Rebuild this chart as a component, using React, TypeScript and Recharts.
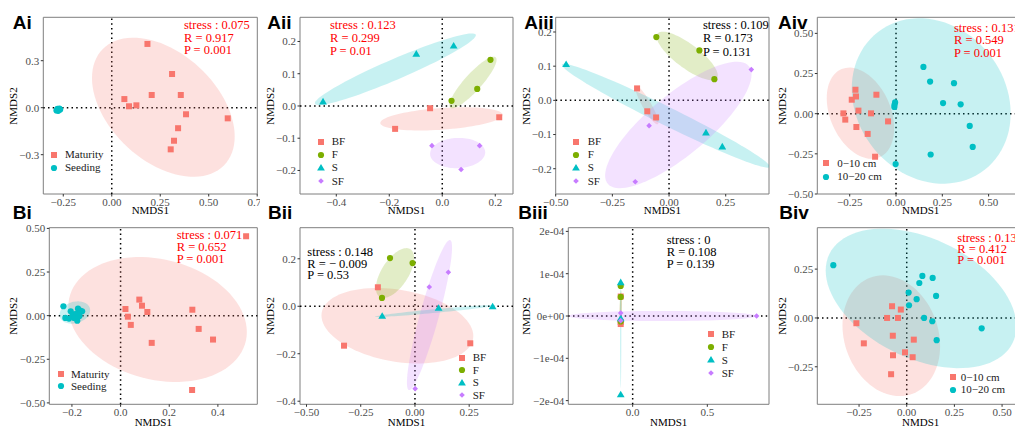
import React from 'react';
import { ScatterChart, Scatter, XAxis, YAxis, ReferenceLine, ReferenceArea } from 'recharts';

type Pt = [number, number];
type Ell = { cx: number; cy: number; sx: number; sy: number; r: number };
type Kind = 'square' | 'circle' | 'triangle' | 'diamond';

const RED = '#F8766D';
const GREEN = '#7CAE00';
const CYAN = '#00BFC4';
const PURPLE = '#C77CFF';

// ---- Ai : growth stage, 0-10 cm ----
const aiMaturity: Pt[] = [[0.184, 0.407], [0.311, 0.215], [0.065, 0.055], [0.206, 0.081], [0.356, 0.081], [0.089, 0.009], [0.127, 0.015], [0.383, -0.042], [0.598, -0.068], [0.342, -0.131], [0.321, -0.211], [0.304, -0.266]];
const aiSeeding: Pt[] = [[-0.285, -0.018], [-0.28, -0.008], [-0.276, -0.02], [-0.27, -0.006], [-0.266, -0.012], [-0.279, -0.014]];
const aiEllMaturity: Ell = { cx: 0.266, cy: 0.003, sx: 0.368, sy: 0.444, r: -0.42 };
const aiEllSeeding: Ell = { cx: -0.276, cy: -0.013, sx: 0.016, sy: 0.014, r: 0.3 };

// ---- Aii ----
const aiiBF: Pt[] = [[-0.046, -0.007], [-0.178, -0.071], [0.215, -0.035]];
const aiiF: Pt[] = [[0.035, 0.016], [0.132, 0.053], [0.182, 0.143]];
const aiiS: Pt[] = [[-0.45, 0.013], [-0.098, 0.161], [0.043, 0.186]];
const aiiSF: Pt[] = [[-0.039, -0.123], [0.141, -0.123], [0.071, -0.197]];
const aiiEll: Ell[] = [
  { cx: -0.003, cy: -0.04, sx: 0.231, sy: 0.036, r: 0.35 },
  { cx: 0.116, cy: 0.073, sx: 0.089, sy: 0.08, r: 0.88 },
  { cx: -0.177, cy: 0.114, sx: 0.304, sy: 0.111, r: 0.95 },
  { cx: 0.058, cy: -0.146, sx: 0.104, sy: 0.047, r: 0.05 },
];

// ---- Aiii ----
const aiiiBF: Pt[] = [[-0.141, 0.035], [-0.096, -0.032], [-0.057, -0.05]];
const aiiiF: Pt[] = [[-0.056, 0.185], [0.134, 0.146], [0.2, 0.062]];
const aiiiS: Pt[] = [[-0.454, 0.105], [0.163, -0.095], [0.235, -0.136]];
const aiiiSF: Pt[] = [[0.363, 0.09], [-0.088, -0.074], [-0.149, -0.238]];
const aiiiEll: Ell[] = [
  { cx: -0.098, cy: -0.014, sx: 0.051, sy: 0.056, r: -0.9 },
  { cx: 0.08, cy: 0.13, sx: 0.135, sy: 0.071, r: -0.8 },
  { cx: -0.014, cy: -0.045, sx: 0.459, sy: 0.152, r: -0.98 },
  { cx: 0.041, cy: -0.072, sx: 0.323, sy: 0.185, r: 0.8 },
];

// ---- Aiv ----
const aivTop: Pt[] = [[-0.219, 0.149], [-0.216, 0.107], [-0.239, 0.087], [-0.106, 0.118], [-0.203, 0.019], [-0.284, 0.002], [-0.274, -0.037], [-0.135, 0.002], [-0.043, -0.048], [-0.214, -0.083], [-0.153, -0.126], [-0.113, -0.268]];
const aivSub: Pt[] = [[0.148, 0.291], [0.184, 0.2], [0.313, 0.19], [0.254, 0.066], [0.349, 0.058], [-0.005, 0.07], [-0.008, 0.055], [-0.009, 0.042], [0.398, -0.076], [0.414, -0.207], [0.187, -0.254], [-0.002, -0.314]];
const aivEllTop: Ell = { cx: -0.192, cy: 0.003, sx: 0.182, sy: 0.284, r: -0.33 };
const aivEllSub: Ell = { cx: 0.19, cy: 0.079, sx: 0.429, sy: 0.515, r: -0.15 };

// ---- Bi ----
const biMaturity: Pt[] = [[0.516, 0.455], [0.077, 0.092], [0.088, 0.057], [0.11, 0.021], [0.02, 0.038], [0.03, -0.006], [0.042, -0.053], [0.128, -0.156], [0.295, 0.034], [0.321, -0.076], [0.38, -0.137], [0.294, -0.426]];
const biSeeding: Pt[] = [[-0.235, 0.054], [-0.227, -0.013], [-0.212, -0.017], [-0.205, 0.025], [-0.196, 0.006], [-0.183, 0.011], [-0.178, -0.029], [-0.175, 0.04], [-0.166, 0.029], [-0.158, 0.025], [-0.191, -0.013], [-0.169, -0.002]];
const biEllMaturity: Ell = { cx: 0.152, cy: -0.022, sx: 0.367, sy: 0.358, r: -0.2 };
const biEllSeeding: Ell = { cx: -0.188, cy: 0.018, sx: 0.063, sy: 0.064, r: 0.2 };

// ---- Bii ----
const biiBF: Pt[] = [[-0.171, 0.08], [-0.327, -0.166], [0.255, -0.156]];
const biiF: Pt[] = [[-0.115, 0.203], [-0.011, 0.182], [-0.152, 0.035]];
const biiS: Pt[] = [[-0.151, -0.042], [0.109, -0.008], [0.358, -0.002]];
const biiSF: Pt[] = [[0.066, 0.081], [0.154, 0.143], [0.001, -0.347]];
const biiEll: Ell[] = [
  { cx: -0.081, cy: -0.082, sx: 0.35, sy: 0.159, r: -0.27 },
  { cx: -0.092, cy: 0.14, sx: 0.088, sy: 0.105, r: 0.6 },
  { cx: 0.092, cy: -0.02, sx: 0.277, sy: 0.025, r: 0.95 },
  { cx: 0.067, cy: -0.037, sx: 0.104, sy: 0.316, r: 0.9 },
];

// ---- Biii ----
const biiiBF: Pt[] = [[-0.08, 4.6e-5], [-0.08, -1.4e-5], [-0.08, -1.9e-5]];
const biiiF: Pt[] = [[-0.08, 7.1e-5], [-0.08, 4.5e-5], [-0.08, -1.3e-5]];
const biiiS: Pt[] = [[-0.08, 7.9e-5], [-0.08, -0.6e-5], [-0.08, -1.86e-4]];
const biiiSF: Pt[] = [[-0.08, 0.7e-5], [-0.08, -1.1e-5], [0.83, 0]];
const biiiEll: Ell[] = [
  { cx: -0.08, cy: 1.5e-5, sx: 0.008, sy: 3.6e-5, r: 0.5 },
  { cx: -0.08, cy: 2e-5, sx: 0.008, sy: 4e-5, r: 0.3 },
  { cx: -0.08, cy: -4e-5, sx: 0.004, sy: 1.3e-4, r: 0 },
  { cx: 0.2, cy: 0, sx: 0.63, sy: 1.2e-5, r: 0 },
];

// ---- Biv ----
const bivTop: Pt[] = [[-0.077, 0.06], [-0.031, 0.043], [-0.103, 0], [-0.046, 0], [-0.264, -0.027], [-0.225, -0.13], [-0.073, -0.091], [0.037, -0.111], [-0.009, -0.176], [-0.072, -0.191], [0.031, -0.201], [-0.082, -0.288]];
const bivSub: Pt[] = [[-0.385, 0.27], [0.082, 0.215], [0.136, 0.205], [0.066, 0.179], [0.01, 0.13], [0.154, 0.113], [0.052, 0.096], [0.012, 0.065], [0.091, 0], [0.134, -0.017], [0.157, -0.114], [0.393, -0.053]];
const bivEllTop: Ell = { cx: -0.081, cy: -0.091, sx: 0.256, sy: 0.309, r: -0.17 };
const bivEllSub: Ell = { cx: 0.075, cy: 0.1, sx: 0.5, sy: 0.357, r: -0.4 };

const statsAi = ['stress : 0.075', 'R = 0.917', 'P = 0.001'];
const statsAii = ['stress : 0.123', 'R = 0.299', 'P = 0.01'];
const statsAiii = ['stress : 0.109', 'R = 0.173', 'P = 0.131'];
const statsAiv = ['stress : 0.131', 'R = 0.549', 'P = 0.001'];
const statsBi = ['stress : 0.071', 'R = 0.652', 'P = 0.001'];
const statsBii = ['stress : 0.148', 'R = \u2212 0.009', 'P = 0.53'];
const statsBiii = ['stress : 0', 'R = 0.108', 'P = 0.139'];
const statsBiv = ['stress : 0.131', 'R = 0.412', 'P = 0.001'];

const SERIF = '"Liberation Serif", "Times New Roman", serif';
const SANS = '"Liberation Sans", Arial, sans-serif';

type Group = { name: string; color: string; kind: Kind; pts: Pt[]; ell: Ell };

const stage = (m: Pt[], s: Pt[], em: Ell, es: Ell): Group[] => [
  { name: 'Maturity', color: RED, kind: 'square', pts: m, ell: em },
  { name: 'Seeding', color: CYAN, kind: 'circle', pts: s, ell: es },
];
const depth = (t: Pt[], s: Pt[], et: Ell, es: Ell): Group[] => [
  { name: '0\u221210 cm', color: RED, kind: 'square', pts: t, ell: et },
  { name: '10\u221220 cm', color: CYAN, kind: 'circle', pts: s, ell: es },
];
const mgmt = (bf: Pt[], f: Pt[], s: Pt[], sf: Pt[], e: Ell[]): Group[] => [
  { name: 'BF', color: RED, kind: 'square', pts: bf, ell: e[0] },
  { name: 'F', color: GREEN, kind: 'circle', pts: f, ell: e[1] },
  { name: 'S', color: CYAN, kind: 'triangle', pts: s, ell: e[2] },
  { name: 'SF', color: PURPLE, kind: 'diamond', pts: sf, ell: e[3] },
];

const minus = (v: number, s: string) => (v < 0 ? '\u2212' : '') + s;
const f1 = (v: number) => minus(v, Math.abs(v).toFixed(1));
const f2 = (v: number) => minus(v, Math.abs(v).toFixed(2));
const sci = (v: number) => (v === 0 ? '0e+00' : minus(v, `${Math.round(Math.abs(v) * 1e4)}e-04`));

type PanelCfg = {
  tag: string; tagAt: [number, number];
  left: number; top: number; clipW: number; height: number;
  plot: [number, number, number, number];
  xDomain: [number, number]; yDomain: [number, number];
  xTicks: number[]; yTicks: number[];
  xFmt: (v: number) => string; yFmt: (v: number) => string;
  groups: Group[];
  stats: string[]; statsColor: string; statsAt: [number, number]; statsGap: number;
  legendAt: [number, number]; legendGap: number; legendTextX: number;
  ylabX: number; xlabY: number;
};

const panels: PanelCfg[] = [
  {
    tag: 'Ai', tagAt: [12.7, 29.3], left: 0, top: 0, clipW: 261, height: 216,
    plot: [43.3, 17.3, 257.3, 194], xDomain: [-0.353, 0.7505], yDomain: [-0.551, 0.577],
    xTicks: [-0.25, 0, 0.25, 0.5, 0.75], yTicks: [-0.3, 0, 0.3], xFmt: f2, yFmt: f1,
    groups: stage(aiMaturity, aiSeeding, aiEllMaturity, aiEllSeeding),
    stats: statsAi, statsColor: '#FF0000', statsAt: [184, 25.3], statsGap: 12.7,
    legendAt: [54.3, 154.7], legendGap: 13, legendTextX: 65, ylabX: 13, xlabY: 210.3,
  },
  {
    tag: 'Aii', tagAt: [267.3, 29.3], left: 261, top: 0, clipW: 253, height: 216,
    plot: [300, 17.3, 513, 194], xDomain: [-0.537, 0.267], yDomain: [-0.273, 0.275],
    xTicks: [-0.4, -0.2, 0, 0.2], yTicks: [-0.2, -0.1, 0, 0.1, 0.2], xFmt: f1, yFmt: f1,
    groups: mgmt(aiiBF, aiiF, aiiS, aiiSF, aiiEll),
    stats: statsAii, statsColor: '#FF0000', statsAt: [330, 25], statsGap: 13.3,
    legendAt: [320.7, 141.7], legendGap: 13.1, legendTextX: 331.7, ylabX: 269.5, xlabY: 210.3,
  },
  {
    tag: 'Aiii', tagAt: [524.3, 29.3], left: 514, top: 0, clipW: 256, height: 216,
    plot: [555.7, 17.3, 769, 194], xDomain: [-0.5, 0.441], yDomain: [-0.274, 0.243],
    xTicks: [-0.5, -0.25, 0, 0.25], yTicks: [-0.2, -0.1, 0, 0.1, 0.2], xFmt: f2, yFmt: f1,
    groups: mgmt(aiiiBF, aiiiF, aiiiS, aiiiSF, aiiiEll),
    stats: statsAiii, statsColor: '#000000', statsAt: [703, 25], statsGap: 13.7,
    legendAt: [576, 141.7], legendGap: 13.1, legendTextX: 587.7, ylabX: 525.8, xlabY: 210.3,
  },
  {
    tag: 'Aiv', tagAt: [778, 29.3], left: 770, top: 0, clipW: 245, height: 216,
    plot: [817.3, 17.3, 1024, 194], xDomain: [-0.425, 0.691], yDomain: [-0.5, 0.6],
    xTicks: [-0.25, 0, 0.25, 0.5], yTicks: [-0.5, -0.25, 0, 0.25, 0.5], xFmt: f2, yFmt: f2,
    groups: depth(aivTop, aivSub, aivEllTop, aivEllSub),
    stats: statsAiv, statsColor: '#FF0000', statsAt: [954, 28.3], statsGap: 12.5,
    legendAt: [826, 163.3], legendGap: 13.4, legendTextX: 837.3, ylabX: 782, xlabY: 210.3,
  },
  {
    tag: 'Bi', tagAt: [12.7, 219.5], left: 0, top: 216, clipW: 261, height: 212,
    plot: [49.3, 227.7, 257.3, 404.3], xDomain: [-0.293, 0.562], yDomain: [-0.508, 0.504],
    xTicks: [-0.2, 0, 0.2, 0.4], yTicks: [-0.5, -0.25, 0, 0.25, 0.5], xFmt: f1, yFmt: f2,
    groups: stage(biMaturity, biSeeding, biEllMaturity, biEllSeeding),
    stats: statsBi, statsColor: '#FF0000', statsAt: [176.7, 235.3], statsGap: 12,
    legendAt: [61, 374.3], legendGap: 12, legendTextX: 71, ylabX: 12.8, xlabY: 422.5,
  },
  {
    tag: 'Bii', tagAt: [268, 219.5], left: 261, top: 216, clipW: 253, height: 212,
    plot: [300, 227.7, 513, 404.3], xDomain: [-0.53, 0.452], yDomain: [-0.413, 0.331],
    xTicks: [-0.5, -0.25, 0, 0.25], yTicks: [-0.4, -0.2, 0, 0.2], xFmt: f2, yFmt: f1,
    groups: mgmt(biiBF, biiF, biiS, biiSF, biiEll),
    stats: statsBii, statsColor: '#000000', statsAt: [307.3, 252.7], statsGap: 11.4,
    legendAt: [462.3, 357.7], legendGap: 12.5, legendTextX: 472.7, ylabX: 269.5, xlabY: 422.5,
  },
  {
    tag: 'Biii', tagAt: [518.3, 219.5], left: 514, top: 216, clipW: 256, height: 212,
    plot: [568.3, 227.7, 769, 404.3], xDomain: [-0.431, 0.913], yDomain: [-2.087e-4, 2.087e-4],
    xTicks: [0, 0.5], yTicks: [-2e-4, -1e-4, 0, 1e-4, 2e-4], xFmt: f1, yFmt: sci,
    groups: mgmt(biiiBF, biiiF, biiiS, biiiSF, biiiEll),
    stats: statsBiii, statsColor: '#000000', statsAt: [666.7, 240.3], statsGap: 12.2,
    legendAt: [710.7, 334.3], legendGap: 12.9, legendTextX: 721.7, ylabX: 526, xlabY: 422.5,
  },
  {
    tag: 'Biv', tagAt: [779.3, 219.5], left: 770, top: 216, clipW: 245, height: 212,
    plot: [817.3, 227.7, 1024, 404.3], xDomain: [-0.469, 0.615], yDomain: [-0.442, 0.462],
    xTicks: [-0.25, 0, 0.25, 0.5], yTicks: [-0.25, 0, 0.25], xFmt: f2, yFmt: f2,
    groups: depth(bivTop, bivSub, bivEllTop, bivEllSub),
    stats: statsBiv, statsColor: '#FF0000', statsAt: [957.3, 238], statsGap: 11.4,
    legendAt: [952.7, 377], legendGap: 12.7, legendTextX: 960.7, ylabX: 782, xlabY: 422.5,
  },
];

const Mark = ({ cx, cy, kind, color }: { cx: number; cy: number; kind: Kind; color: string }) => {
  if (kind === 'square') return <rect x={cx - 3} y={cy - 3} width={6} height={6} fill={color} />;
  if (kind === 'circle') return <circle cx={cx} cy={cy} r={3.1} fill={color} />;
  if (kind === 'triangle')
    return <polygon points={`${cx},${cy - 4} ${cx + 3.9},${cy + 2.6} ${cx - 3.9},${cy + 2.6}`} fill={color} />;
  return <polygon points={`${cx},${cy - 2.8} ${cx + 2.8},${cy} ${cx},${cy + 2.8} ${cx - 2.8},${cy}`} fill={color} />;
};

// outline of a confidence ellipse given in data units (sx, sy half extents, r correlation)
function ellipsePath(cx: number, cy: number, e: Ell, kx: number, ky: number) {
  const q = Math.sqrt(1 - e.r * e.r);
  let d = '';
  for (let i = 0; i <= 90; i++) {
    const t = (i / 90) * Math.PI * 2;
    const dx = e.sx * Math.cos(t) * kx;
    const dy = -e.sy * (e.r * Math.cos(t) + q * Math.sin(t)) * ky;
    d += (i ? 'L' : 'M') + (cx + dx).toFixed(2) + ',' + (cy + dy).toFixed(2);
  }
  return d + 'Z';
}

const tickStyle = { fontFamily: SERIF, fontSize: 11, fill: '#4D4D4D' };

function Panel({ p }: { p: PanelCfg }) {
  const [pl, pt, pr, pb] = p.plot;
  const cw = Math.ceil(pr - p.left) + 2;
  const kx = (pr - pl) / (p.xDomain[1] - p.xDomain[0]);
  const ky = (pb - pt) / (p.yDomain[1] - p.yDomain[0]);
  const L = p.left;
  const T = p.top;
  return (
    <div style={{ position: 'absolute', left: L, top: T, width: p.clipW, height: p.height, overflow: 'hidden' }}>
      <ScatterChart
        width={cw}
        height={p.height}
        margin={{ top: pt - T, right: cw - (pr - L), bottom: 0, left: 0 }}
      >
        <XAxis
          type="number"
          dataKey="x"
          domain={p.xDomain}
          allowDataOverflow
          ticks={p.xTicks}
          interval={0}
          tickFormatter={p.xFmt}
          height={T + p.height - pb}
          tickSize={2.5}
          tickMargin={1.5}
          axisLine={false}
          tickLine={{ stroke: '#333333' }}
          tick={tickStyle}
        />
        <YAxis
          type="number"
          dataKey="y"
          domain={p.yDomain}
          allowDataOverflow
          ticks={p.yTicks}
          interval={0}
          tickFormatter={p.yFmt}
          width={pl - L}
          tickSize={2.5}
          tickMargin={1.5}
          axisLine={false}
          tickLine={{ stroke: '#333333' }}
          tick={tickStyle}
        />
        {p.groups.map((g) => (
          <Scatter
            key={'ell-' + g.name}
            data={[{ x: g.ell.cx, y: g.ell.cy }]}
            isAnimationActive={false}
            shape={(s: any) => (
              <path d={ellipsePath(s.cx, s.cy, g.ell, kx, ky)} fill={g.color} fillOpacity={0.22} stroke="none" />
            )}
          />
        ))}
        <ReferenceLine x={0} stroke="#000" strokeWidth={1.5} strokeDasharray="1.5 3.2" />
        <ReferenceLine y={0} stroke="#000" strokeWidth={1.5} strokeDasharray="1.5 3.2" />
        {p.groups.map((g) => (
          <Scatter
            key={'pts-' + g.name}
            data={g.pts.map(([x, y]) => ({ x, y }))}
            isAnimationActive={false}
            shape={(s: any) => <Mark cx={s.cx} cy={s.cy} kind={g.kind} color={g.color} />}
          />
        ))}
        <ReferenceArea
          x1={p.xDomain[0]}
          x2={p.xDomain[1]}
          y1={p.yDomain[0]}
          y2={p.yDomain[1]}
          fill="none"
          stroke="#7F7F7F"
          strokeWidth={1}
          ifOverflow="visible"
        />
      </ScatterChart>

      {p.stats.map((s, i) => (
        <div
          key={s}
          style={{
            position: 'absolute', left: p.statsAt[0] - L, top: p.statsAt[1] + i * p.statsGap - 6.5 - T,
            fontFamily: SERIF, fontSize: 12.5, lineHeight: '12.5px', color: p.statsColor, whiteSpace: 'nowrap',
          }}
        >
          {s}
        </div>
      ))}

      {p.groups.map((g, i) => {
        const y = p.legendAt[1] + i * p.legendGap - T;
        return (
          <React.Fragment key={'lg-' + g.name}>
            <svg style={{ position: 'absolute', left: p.legendAt[0] - L - 6, top: y - 6 }} width={12} height={12}>
              <Mark cx={6} cy={6} kind={g.kind} color={g.color} />
            </svg>
            <div
              style={{
                position: 'absolute', left: p.legendTextX - L, top: y - 6.5,
                fontFamily: SERIF, fontSize: 11, lineHeight: '12px', color: '#1A1A1A', whiteSpace: 'nowrap',
              }}
            >
              {g.name}
            </div>
          </React.Fragment>
        );
      })}

      <div
        style={{
          position: 'absolute', left: (pl + pr) / 2 - L - 40, width: 80, top: p.xlabY - 5.5 - T, textAlign: 'center',
          fontFamily: SERIF, fontSize: 11, lineHeight: '11px', color: '#000',
        }}
      >
        NMDS1
      </div>
      <div
        style={{
          position: 'absolute', left: p.ylabX - L, top: (pt + pb) / 2 - T,
          transform: 'translate(-50%, -50%) rotate(-90deg)',
          fontFamily: SERIF, fontSize: 11, lineHeight: '11px', color: '#000', whiteSpace: 'nowrap',
        }}
      >
        NMDS2
      </div>
    </div>
  );
}

export default function App() {
  return (
    <div style={{ position: 'absolute', left: 0, top: 0, width: 1015, height: 428, background: '#fff', overflow: 'hidden' }}>
      {panels.map((p) => (
        <Panel key={p.tag} p={p} />
      ))}
      {panels.map((p) => (
        <div
          key={'tag-' + p.tag}
          style={{
            position: 'absolute', left: p.tagAt[0], top: p.tagAt[1] - 16.1,
            fontFamily: SANS, fontWeight: 'bold', fontSize: 19, lineHeight: '19px', color: '#000',
          }}
        >
          {p.tag}
        </div>
      ))}
    </div>
  );
}
